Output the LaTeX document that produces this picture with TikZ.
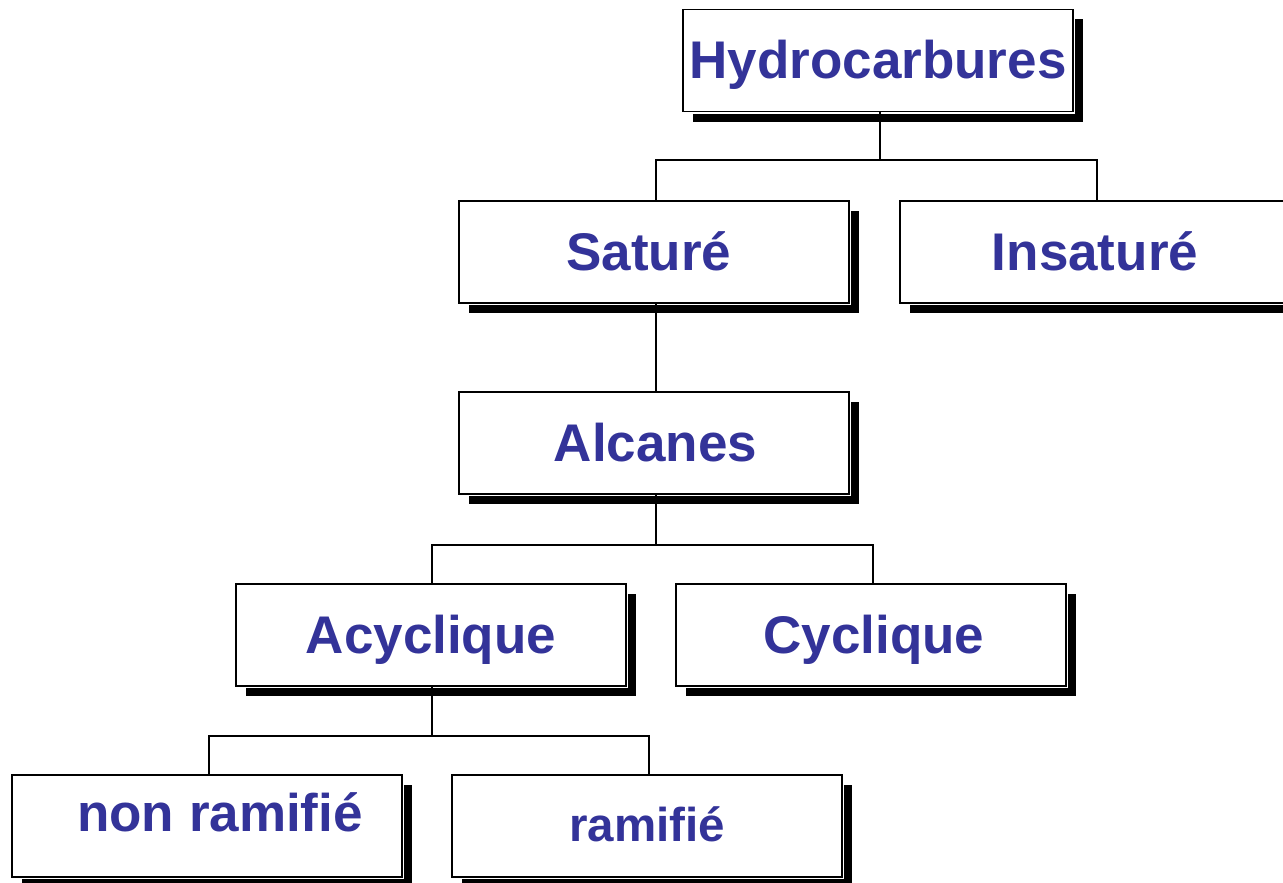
\documentclass[tikz,border=0pt]{standalone}
\usepackage{fontspec}
\setmainfont{Liberation Sans}
\usetikzlibrary{shadows}
\definecolor{txtblue}{HTML}{333399}
\tikzset{
  box/.style={rectangle, minimum width=390pt, minimum height=102pt, inner sep=0pt,
    fill=white, draw=black, line width=1.5pt,
    general shadow={fill=black, shadow xshift=10pt, shadow yshift=-10pt},
    preaction={draw=white, line width=4pt},
    text=txtblue, font=\fontsize{53}{60}\selectfont\bfseries,
    text height=37pt, text depth=0pt},
  conn/.style={draw=black, line width=1.5pt}
}
\begin{document}
\begin{tikzpicture}[x=1pt,y=-1pt]
\useasboundingbox (0,0) rectangle (1283,883);
\clip (0,0) rectangle (1283,883);
\node[box] (hyd) at (878,60.5) {Hydrocarbures};
\node[box] (sat) at (654,252) {Saturé\hspace*{10pt}};
\node[box] (ins) at (1095,252) {Insaturé};
\node[box] (alc) at (654,443) {\hspace*{3pt}Alcanes};
\node[box] (acy) at (431,635) {Acyclique};
\node[box] (cyc) at (871,635) {\hspace*{6pt}Cyclique};
\node[box] (non) at (207,826) {\hspace*{26pt}\raisebox{13pt}{non ramifié}};
\node[box, font=\fontsize{47.5}{54}\selectfont\bfseries] (ram) at (647,826) {\raisebox{3pt}{ramifié}};
\coordinate (j1) at (880,160);
\coordinate (j2) at (656,545);
\coordinate (j3) at (432,736);
\draw[conn] ([xshift=2pt]hyd.south) -- (j1);
\draw[conn] ([xshift=2pt]sat.north) |- (j1) -| ([xshift=2pt]ins.north);
\draw[conn] ([xshift=2pt]sat.south) -- ([xshift=2pt]alc.north);
\draw[conn] ([xshift=2pt]alc.south) -- (j2);
\draw[conn] ([xshift=1pt]acy.north) |- (j2) -| ([xshift=2pt]cyc.north);
\draw[conn] ([xshift=1pt]acy.south) -- (j3);
\draw[conn] ([xshift=2pt]non.north) |- (j3) -| ([xshift=2pt]ram.north);
\end{tikzpicture}
\end{document}
